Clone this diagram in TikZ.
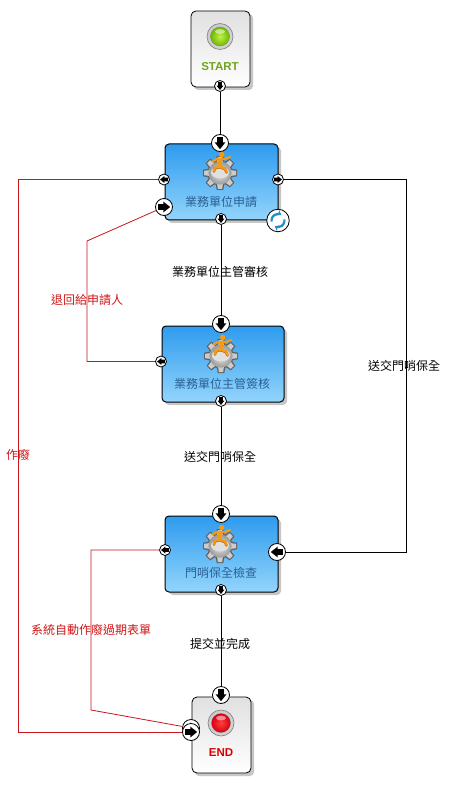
\documentclass[tikz,border=0pt]{standalone}
\usepackage{fontspec}
\setmainfont{Liberation Sans}
\newfontfamily\cjk{Noto Sans CJK TC}
\usetikzlibrary{arrows.meta}
\definecolor{wfred}{HTML}{C8161D}
\definecolor{lblred}{HTML}{D01818}
\definecolor{tasktop}{HTML}{2E9BEE}
\definecolor{taskbot}{HTML}{93D5FC}
\definecolor{tasktext}{HTML}{2A5F92}
\definecolor{startgreen}{HTML}{6FA51E}
\definecolor{figorange}{HTML}{F49A14}
\definecolor{figdark}{HTML}{A85A08}
\definecolor{syncblue}{HTML}{1E8FC8}
\definecolor{lampgreenin}{HTML}{C6F04A}
\definecolor{lampgreenout}{HTML}{6DB800}
\definecolor{lampredin}{HTML}{FF4040}
\definecolor{lampredout}{HTML}{D80010}
\tikzset{
  x=1pt,y=-1pt,
  taskbox/.style={draw=black,line width=1pt,rounded corners=4pt,top color=tasktop,bottom color=taskbot,inner sep=0pt},
  termbox/.style={draw=black,line width=.8pt,rounded corners=5pt,top color=black!12,bottom color=white,inner sep=0pt},
  shadowbox/.style={fill=black!22,draw=none,rounded corners=4pt},
  conn/.style={draw=black,line width=.8pt},
  redconn/.style={draw=wfred,line width=.8pt},
  flowlabel/.style={font=\cjk\fontsize{12}{12}\selectfont,text=black,inner sep=1pt},
  redlabel/.style={font=\cjk\fontsize{12}{12}\selectfont,text=lblred,inner sep=1pt},
  tasklabel/.style={font=\cjk\fontsize{12}{12}\selectfont,text=tasktext,inner sep=0pt},
  portc/.style={circle,draw=black,fill=white,line width=.8pt,inner sep=0pt},
  syncarc/.style={draw=syncblue,line width=2.2pt,-{Stealth[length=4.5pt,width=6.5pt]}},
}
% name, x, y, diameter, rotation (0 = pointing right)
\newcommand{\wfport}[5]{%
  \node[portc,minimum size=#4pt] (#1) at (#2,#3) {};
  \begin{scope}[shift={(#2,#3)},rotate=#5,scale=#4/16]
    \fill[black] (-5.5,2.6) -- (-.5,2.6) -- (-.5,5) -- (5.8,0) -- (-.5,-5) -- (-.5,-2.6) -- (-5.5,-2.6) -- cycle;
  \end{scope}}
% gear with running figure, centred on the gear
\newcommand{\wfgear}[2]{%
  \begin{scope}[shift={(#1,#2)}]
    \foreach \a in {0,45,...,315}{
      \fill[black!62,rotate=\a] (-3.3,-17) -- (3.3,-17) -- (4.6,-9) -- (-4.6,-9) -- cycle;
    }
    \fill[black!62] (0,0) circle (12.6);
    \foreach \a in {0,45,...,315}{
      \fill[black!20,rotate=\a] (-2.2,-16) -- (2.2,-16) -- (3,-10) -- (-3,-10) -- cycle;
    }
    \shade[inner color=black!8,outer color=black!40] (0,0) circle (11.6);
    \fill[black!12] (0,-.5) ellipse (9 and 6);
    \begin{scope}[line cap=round,line join=round]
      \draw[draw=figdark,line width=2.6pt] (-.5,-6) -- (-5.5,-4.5) -- (-6,-1.5);
      \draw[draw=figdark,line width=2.6pt] (-.5,-6) -- (5,-4) -- (6.5,-.5);
      \draw[draw=figorange,line width=2.4pt] (-.5,-6.5) -- (-5.5,-5) -- (-6,-2);
      \draw[draw=figorange,line width=2.4pt] (-.5,-6.5) -- (5,-4.5) -- (6.5,-1);
      \draw[draw=figorange,line width=4pt] (0.5,-13) -- (-.5,-6.5);
      \draw[draw=figorange,line width=2.2pt] (-7.5,-11.5) -- (-3,-14) -- (5,-14) -- (10,-16);
      \fill[figorange] (1.7,-18.5) circle (2.7);
    \end{scope}
  \end{scope}}
% indicator lamp: x, y, bright, base colour
\newcommand{\wflamp}[4]{%
  \shade[inner color=white,outer color=black!22] (#1,#2) circle (13);
  \draw[black!50,line width=.6pt] (#1,#2) circle (13);
  \fill[black!40] (#1,#2) circle (10);
  \shade[inner color=#3,outer color=#4] (#1,#2) circle (9.4);
  \fill[white,opacity=.5] (#1,#2-5) ellipse (5 and 2.4);}
\begin{document}
\begin{tikzpicture}
\useasboundingbox (0,0) rectangle (452,786);
\fill[white] (0,0) rectangle (452,786);
% shadows
\fill[shadowbox] (194,14) rectangle (253,90);
\fill[shadowbox] (168,147) rectangle (281,223);
\fill[shadowbox] (165,329) rectangle (287,405);
\fill[shadowbox] (169,519) rectangle (281,595);
\fill[shadowbox] (195,700) rectangle (254,776);
% boxes
\node[termbox,minimum width=59pt,minimum height=76pt] (start) at (220.5,49) {};
\node[taskbox,minimum width=113pt,minimum height=76pt] (t1) at (221.5,182) {};
\node[taskbox,minimum width=122pt,minimum height=76pt] (t2) at (223,364) {};
\node[taskbox,minimum width=113pt,minimum height=76pt] (t3) at (221.5,554) {};
\node[termbox,minimum width=59pt,minimum height=76pt] (end) at (221.5,735) {};
% start lamp
\wflamp{220}{36.5}{lampgreenin}{lampgreenout}
\node[font=\bfseries\fontsize{11.5}{12}\selectfont,text=startgreen] (startl) at (220,67) {START};
% end lamp
\wflamp{221}{723}{lampredin}{lampredout}
\node[font=\bfseries\fontsize{11.5}{12}\selectfont,text=red!85!black] (endl) at (221,753) {END};
% gears
\wfgear{220}{173}
\wfgear{221}{356}
\wfgear{220}{546}
% task labels
\node[tasklabel] (t1l) at (221,202) {業務單位申請};
\node[tasklabel] (t2l) at (222,384) {業務單位主管簽核};
\node[tasklabel] (t3l) at (221,573) {門哨保全檢查};
% ports
\wfport{pS}{220}{86}{11}{-90}
\wfport{p1in}{220}{143}{17}{-90}
\wfport{p1out}{221}{219}{11}{-90}
\wfport{p1l}{164}{179.5}{11}{180}
\wfport{p1back}{164}{207}{17}{0}
\wfport{p1r}{278}{179.5}{11}{0}
\wfport{p2in}{221}{324}{17}{-90}
\wfport{p2out}{221}{401}{11}{-90}
\wfport{p2l}{161}{361.5}{11}{180}
\wfport{p3in}{221}{514}{17}{-90}
\wfport{p3out}{221}{590}{11}{-90}
\wfport{p3l}{165}{550}{11}{180}
\wfport{p3r}{277}{552}{17}{180}
\wfport{pEin}{221}{695}{17}{-90}
\wfport{pEa}{191}{728}{17}{0}
\wfport{pEb}{191}{732}{17}{0}
% refresh badge
\node[portc,minimum size=22.5pt] (badge) at (278,220.5) {};
\begin{scope}[shift={(278,220.5)}]
  \draw[syncarc] (170:6.5) arc[start angle=170,end angle=300,radius=6.5];
  \draw[syncarc] (-10:6.5) arc[start angle=-10,end angle=120,radius=6.5];
\end{scope}
% coordinates
\coordinate (r1a) at (18,179.5);
\coordinate (r1b) at (18,732);
\coordinate (r2a) at (87,241);
\coordinate (r2b) at (87,361.5);
\coordinate (r3a) at (91,550);
\coordinate (r3b) at (91,710);
\coordinate (b1) at (406,179.5);
\coordinate (b2) at (406,552);
% connectors
\draw[conn] (pS) -- (p1in);
\draw[conn] (p1out) -- (p2in);
\draw[conn] (p2out) -- (p3in);
\draw[conn] (p3out) -- (pEin);
\draw[conn] (p1r) -- (b1) -- (b2) -- (p3r);
\draw[redconn] (p1l) -- (r1a) -- (r1b) -- (pEb);
\draw[redconn] (p1back) -- (r2a) -- (r2b) -- (p2l);
\draw[redconn] (p3l) -- (r3a) -- (r3b) -- (pEa);
% flow labels
\node[flowlabel] (l1) at (220,272) {業務單位主管審核};
\node[flowlabel] (l2) at (220,457) {送交門哨保全};
\node[flowlabel] (l3) at (220,644) {提交並完成};
\node[flowlabel] (l4) at (404,366) {送交門哨保全};
\node[redlabel] (l5) at (87,300) {退回給申請人};
\node[redlabel] (l6) at (18,455) {作廢};
\node[redlabel] (l7) at (91,630) {系統自動作廢過期表單};
\end{tikzpicture}
\end{document}
